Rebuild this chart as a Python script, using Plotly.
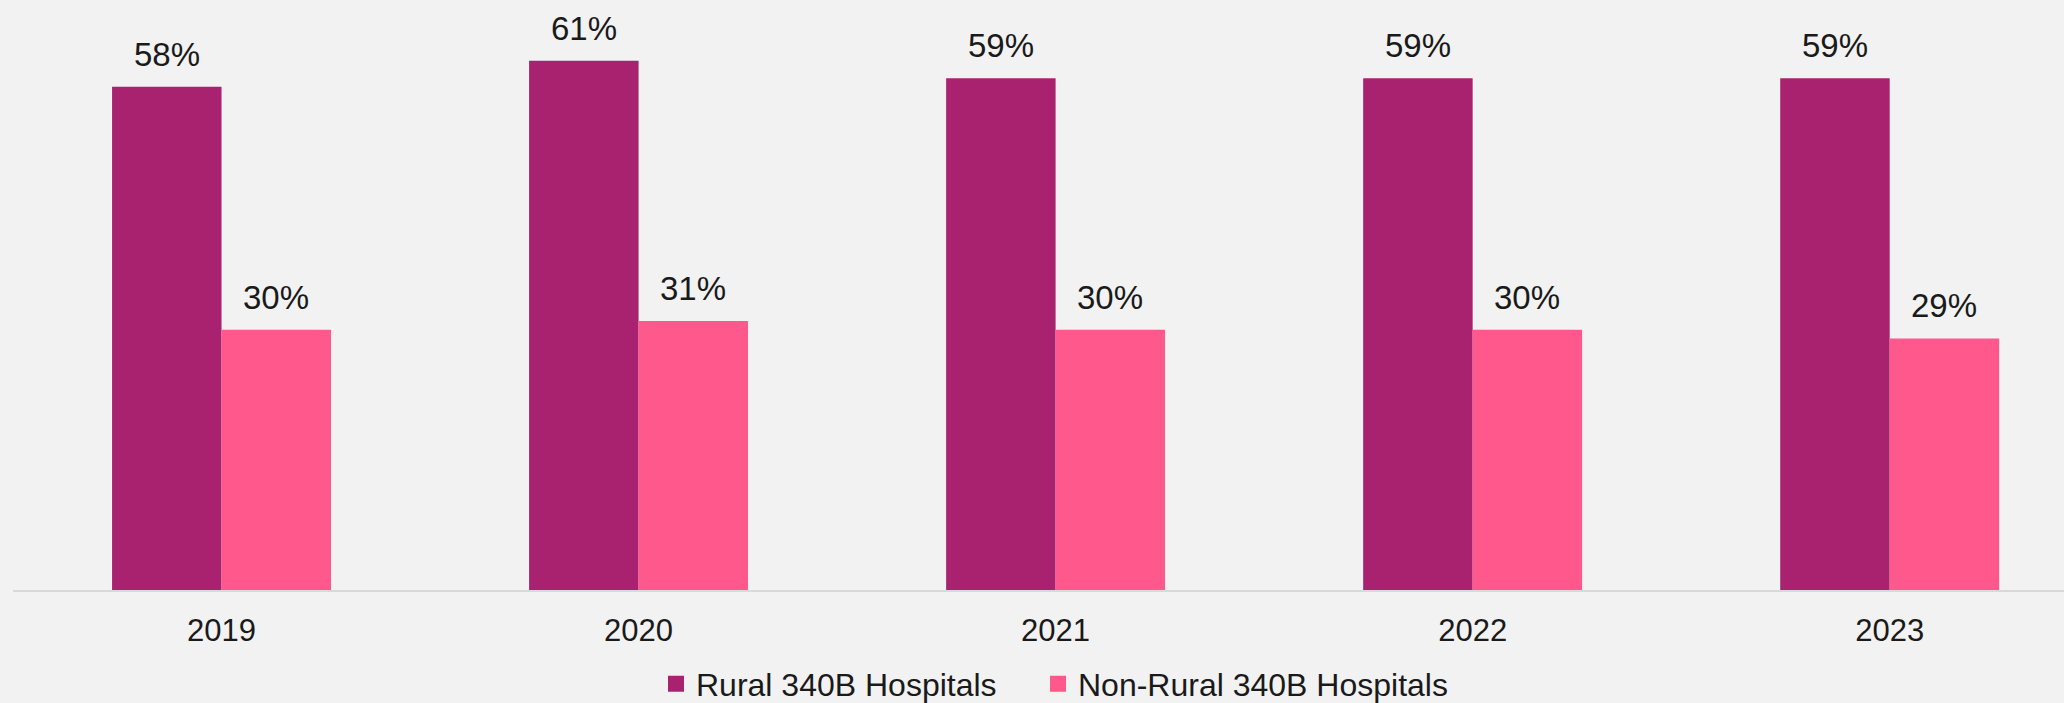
import plotly.graph_objects as go

# Dados
anos = ["2019", "2020", "2021", "2022", "2023"]
rural = [0.58, 0.61, 0.59, 0.59, 0.59]
nao_rural = [0.30, 0.31, 0.30, 0.30, 0.29]

cor_rural = "#A8226F"
cor_nao_rural = "#FF588C"
fonte = "Liberation Sans, Arial, sans-serif"

largura_px = 2064
altura_px = 703
bargap = 0.475
x_range = [-0.5, 4.418]
# meia largura de uma barra em pixels (para posicionar os rótulos)
passo_px = (largura_px - 13) / (x_range[1] - x_range[0])
meia_barra = passo_px * (1 - bargap) / 4

fig = go.Figure()

series = [("Rural 340B Hospitals", rural, cor_rural, -meia_barra, "legend", 656),
          ("Non-Rural 340B Hospitals", nao_rural, cor_nao_rural, meia_barra, "legend2", 1038)]

for nome, valores, cor, desloc, leg, leg_x in series:
    fig.add_trace(go.Bar(
        x=anos, y=valores, name=nome,
        marker=dict(color=cor, line=dict(width=0)),
        showlegend=False,
    ))
    # quadrado maior na legenda (uma legenda por série para controlar o espaçamento)
    fig.add_trace(go.Scatter(
        x=[None], y=[None], mode="markers", name=nome, legend=leg,
        marker=dict(symbol="square", size=18, color=cor),
    ))
    fig.update_layout({leg: dict(
        orientation="h", xref="container", yref="container",
        x=leg_x / largura_px, xanchor="left",
        y=(altura_px - 684) / altura_px, yanchor="middle",
        font=dict(size=32, color="#1a1a1a"), itemsizing="trace",
        bgcolor="rgba(0,0,0,0)",
    )})
    # rótulos acima das barras (x = índice da categoria)
    for i, v in enumerate(valores):
        fig.add_annotation(
            x=i, y=v, text=f"{v:.0%}", showarrow=False,
            xshift=desloc, yshift=12, yanchor="bottom",
            font=dict(size=33, color="#1a1a1a", family=fonte),
        )

fig.update_layout(
    width=largura_px, height=altura_px,
    paper_bgcolor="#f2f2f2", plot_bgcolor="#f2f2f2",
    margin=dict(l=13, r=0, t=20, b=113),
    barmode="group", bargap=bargap, bargroupgap=0,
    font=dict(family=fonte, color="#1a1a1a"),
)
fig.update_xaxes(
    type="category", range=x_range, showline=True, linecolor="#d9d9d9", linewidth=2,
    showgrid=False, ticks="", tickfont=dict(size=31, color="#1a1a1a"),
    ticklabelstandoff=12,
)
fig.update_yaxes(range=[0, 0.657], visible=False, showgrid=False, zeroline=False)

fig.write_html("out.html", config={"displayModeBar": False},
               post_script="document.body.style.margin='0';")
